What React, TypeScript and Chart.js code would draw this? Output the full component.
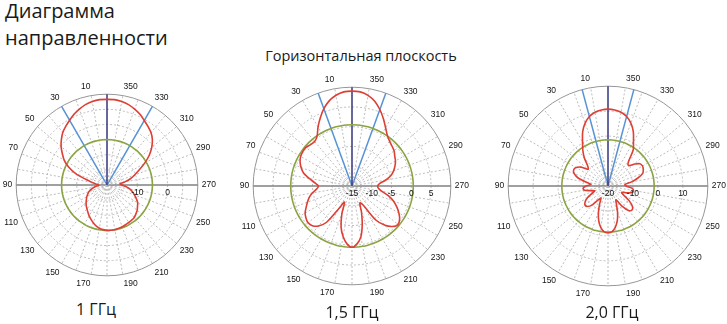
import React, { useEffect, useRef } from 'react';
import { Chart, registerables } from 'chart.js';

Chart.register(...registerables);

// Angles (degrees, counter-clockwise from the top) at which the patterns are sampled
const ANGLES = [
  0, 5, 10, 15, 20, 25, 30, 35, 40, 45, 50, 55, 60, 65, 70, 75, 80, 85,
  90, 95, 100, 105, 110, 115, 120, 125, 130, 135, 140, 145, 150, 155, 160, 165, 170, 175,
  180, 185, 190, 195, 200, 205, 210, 215, 220, 225, 230, 235, 240, 245, 250, 255, 260, 265,
  270, 275, 280, 285, 290, 295, 300, 305, 310, 315, 320, 325, 330, 335, 340, 345, 350, 355,
];

// Angle labels shown around each plot
const ANGLE_LABELS = [10, 30, 50, 70, 90, 110, 130, 150, 170, 190, 210, 230, 250, 270, 290, 310, 330, 350];

// Gain patterns, dB, one value per entry of ANGLES
const GAIN_1GHZ = [
  8.3, 8.3, 8.0, 7.5, 6.7, 5.8, 4.7, 3.7, 2.7, 1.3, -0.2, -2.0, -3.7, -6.0, -9.0, -12.7, -15.0, -16.3,
  -17.3, -16.7, -15.7, -14.7, -13.7, -13.0, -12.3, -11.7, -11.0, -10.3, -9.7, -9.0, -8.2, -7.5, -6.7, -6.0, -5.5, -5.2,
  -5.0, -5.0, -5.0, -5.2, -5.3, -5.5, -5.7, -5.8, -6.0, -6.5, -7.0, -7.7, -8.3, -9.3, -10.3, -11.3, -12.3, -13.7,
  -15.0, -15.7, -14.0, -12.0, -10.3, -8.3, -5.7, -3.0, -0.7, 1.2, 2.6, 3.6, 4.6, 5.8, 6.7, 7.5, 8.0, 8.3,
];
const GAIN_15GHZ = [
  9.0, 8.9, 8.3, 7.3, 5.8, 4.0, 2.2, 0.4, -0.3, -0.2, 0.2, 0.2, 0.0, -0.5, -1.3, -2.3, -4.0, -5.5,
  -6.5, -6.0, -4.8, -3.8, -3.0, -2.2, -1.3, -0.8, -0.5, -0.8, -1.8, -3.8, -8.5, -10.5, -7.5, -4.3, -2.0, -0.3,
  0.5, -0.3, -2.0, -5.0, -8.0, -10.3, -9.5, -4.5, -2.0, -0.5, 0.2, -0.3, -1.3, -2.5, -3.8, -5.5, -7.3, -8.3,
  -8.5, -8.0, -6.3, -4.8, -3.8, -3.0, -2.3, -1.8, -1.1, -0.7, -0.2, 0.6, 2.0, 3.8, 5.6, 7.2, 8.3, 8.9,
];
const GAIN_2GHZ = [
  10.8, 10.6, 10.0, 8.8, 6.8, 4.0, 0.4, -2.4, -5.2, -8.4, -9.6, -6.8, -5.2, -4.8, -5.6, -7.6, -11.2, -13.2,
  -11.2, -10.0, -10.4, -12.8, -14.4, -12.8, -10.4, -8.8, -8.0, -8.4, -10.0, -13.2, -14.4, -12.0, -8.8, -5.6, -3.2, -1.6,
  -1.2, -1.6, -3.2, -5.6, -8.8, -12.0, -13.6, -10.0, -7.2, -6.4, -7.2, -9.6, -12.8, -14.0, -12.0, -10.0, -9.6, -10.4,
  -12.8, -13.2, -10.4, -7.6, -5.2, -4.4, -4.0, -4.4, -6.4, -8.4, -7.2, -2.4, 0.4, 4.0, 6.8, 8.8, 10.0, 10.6,
];

// Reference (green) circle level, dB
const REF_1GHZ = -5;
const REF_15GHZ = 0.5;
const REF_2GHZ = -1.5;

// Radial scale [min, max, step], dB
const RANGE_1GHZ = [-20, 10, 5];
const RANGE_15GHZ = [-15, 10, 5];
const RANGE_2GHZ = [-20, 20, 10];

// Ring value labels
const RING_LABELS_1GHZ = [-10, 0];
const RING_LABELS_15GHZ = [-15, -10, -5, 0, 5];
const RING_LABELS_2GHZ = [-20, -10, 0, 10];

// Beam-width marker directions, degrees
const BEAM_1GHZ = [30, 330];
const BEAM_15GHZ = [20, 340];
const BEAM_2GHZ = [15, 345];

const RED = 'rgb(222, 62, 52)';
const GREEN = 'rgb(138, 164, 66)';
const BLUE = 'rgb(86, 146, 212)';
const NAVY = 'rgb(52, 52, 128)';
const AXIS = 'rgb(128, 128, 128)';
const OUTER = 'rgb(150, 150, 150)';
const LIGHT = 'rgb(188, 188, 188)';
const LABEL = 'rgb(20, 20, 20)';
const FONT = "'Liberation Sans', Arial, sans-serif";

type PlotProps = {
  gain: number[];
  refLevel: number;
  range: number[];
  ringLabels: number[];
  beams: number[];
  size: number;
  left: number;
  top: number;
  fontSize: number;
};

function PolarPlot({ gain, refLevel, range, ringLabels, beams, size, left, top, fontSize }: PlotProps) {
  const ref = useRef<HTMLCanvasElement>(null);
  useEffect(() => {
    if (!ref.current) return;
    // radar goes clockwise; the reference angles go counter-clockwise
    const order = ANGLES.map((_, i) => (360 - ANGLES[i]) % 360);
    const labels = order.map((a) => String(a));
    const data = order.map((a) => gain[ANGLES.indexOf(a)]);
    const refData = order.map(() => refLevel);
    const [min, max, step] = range;

    const ringLabelPlugin = {
      id: 'ringLabels',
      afterDatasetsDraw(chart: any) {
        const scale = chart.scales.r;
        const ctx = chart.ctx;
        ctx.save();
        ctx.font = `${fontSize}px ${FONT}`;
        ctx.fillStyle = LABEL;
        ctx.textAlign = 'center';
        ctx.textBaseline = 'middle';
        ringLabels.forEach((v) => {
          const d = scale.getDistanceFromCenterForValue(v);
          ctx.fillText(String(v), scale.xCenter + d, scale.yCenter + 8);
        });
        ctx.restore();
      },
    };

    const angleOf = (i: number) => order[i];

    const chart = new Chart(ref.current, {
      type: 'radar',
      data: {
        labels,
        datasets: [
          {
            data,
            borderColor: RED,
            borderWidth: 1.6,
            pointRadius: 0,
            fill: false,
            tension: 0.3,
          },
          {
            data: refData,
            borderColor: GREEN,
            borderWidth: 1.6,
            pointRadius: 0,
            fill: false,
            tension: 0.4,
          },
        ],
      },
      options: {
        animation: false,
        responsive: false,
        maintainAspectRatio: false,
        events: [],
        layout: { padding: 0 },
        plugins: { legend: { display: false }, tooltip: { enabled: false } },
        scales: {
          r: {
            min,
            max,
            ticks: { display: false, stepSize: step },
            grid: {
              circular: true,
              color: (c: any) => (c.tick && c.tick.value === max ? OUTER : LIGHT),
              lineWidth: 1,
            },
            border: {
              dash: (c: any) => (c.tick && c.tick.value === max ? [] : [2, 2]),
            },
            angleLines: {
              color: (c: any) => {
                const a = angleOf(c.index);
                if (a === 0) return NAVY;
                if (beams.includes(a)) return BLUE;
                if (a === 90 || a === 270) return AXIS;
                if (a % 10 === 0) return LIGHT;
                return 'rgba(0,0,0,0)';
              },
              lineWidth: (c: any) => {
                const a = angleOf(c.index);
                if (a === 0 || beams.includes(a) || a === 90 || a === 270) return 1.5;
                if (a % 10 === 0) return 1;
                return 0;
              },
              borderDash: (c: any) => {
                const a = angleOf(c.index);
                if (a === 0 || beams.includes(a) || a === 90 || a === 270) return [];
                return [2, 2];
              },
            },
            pointLabels: {
              display: true,
              padding: 4,
              color: LABEL,
              font: { family: FONT, size: fontSize },
              callback: (label: string) => (ANGLE_LABELS.includes(Number(label)) ? label : ''),
            },
          },
        },
      },
      plugins: [ringLabelPlugin],
    } as any);
    return () => chart.destroy();
  }, []);
  return (
    <canvas
      ref={ref}
      width={size}
      height={size}
      style={{ position: 'absolute', left, top, width: size, height: size }}
    />
  );
}

const textBase: React.CSSProperties = {
  position: 'absolute',
  fontFamily: "'Open Sans', 'Noto Sans', sans-serif",
  color: '#1a1a1a',
  whiteSpace: 'nowrap',
};

export default function App() {
  return (
    <div
      style={{
        position: 'absolute',
        left: 0,
        top: 0,
        width: 727,
        height: 324,
        overflow: 'hidden',
        background: '#fff',
      }}
    >
      <div style={{ ...textBase, left: 5, top: -3, fontSize: 20, lineHeight: '27px' }}>
        Диаграмма
        <br />
        направленности
      </div>
      <div
        style={{ ...textBase, left: 211, width: 300, textAlign: 'center', top: 46, fontSize: 14.5, lineHeight: '20px' }}
      >
        Горизонтальная плоскость
      </div>

      <PolarPlot
        gain={GAIN_1GHZ}
        refLevel={REF_1GHZ}
        range={RANGE_1GHZ}
        ringLabels={RING_LABELS_1GHZ}
        beams={BEAM_1GHZ}
        size={217}
        left={1}
        top={77}
        fontSize={8.5}
      />
      <PolarPlot
        gain={GAIN_15GHZ}
        refLevel={REF_15GHZ}
        range={RANGE_15GHZ}
        ringLabels={RING_LABELS_15GHZ}
        beams={BEAM_15GHZ}
        size={234}
        left={238}
        top={69}
        fontSize={8.5}
      />
      <PolarPlot
        gain={GAIN_2GHZ}
        refLevel={REF_2GHZ}
        range={RANGE_2GHZ}
        ringLabels={RING_LABELS_2GHZ}
        beams={BEAM_2GHZ}
        size={235}
        left={493}
        top={69}
        fontSize={8.5}
      />

      <div style={{ ...textBase, left: 46, width: 100, textAlign: 'center', top: 298, fontSize: 16, lineHeight: '22px' }}>
        1 ГГц
      </div>
      <div style={{ ...textBase, left: 302, width: 100, textAlign: 'center', top: 301, fontSize: 16, lineHeight: '22px' }}>
        1,5 ГГц
      </div>
      <div style={{ ...textBase, left: 562, width: 100, textAlign: 'center', top: 301, fontSize: 16, lineHeight: '22px' }}>
        2,0 ГГц
      </div>
    </div>
  );
}
